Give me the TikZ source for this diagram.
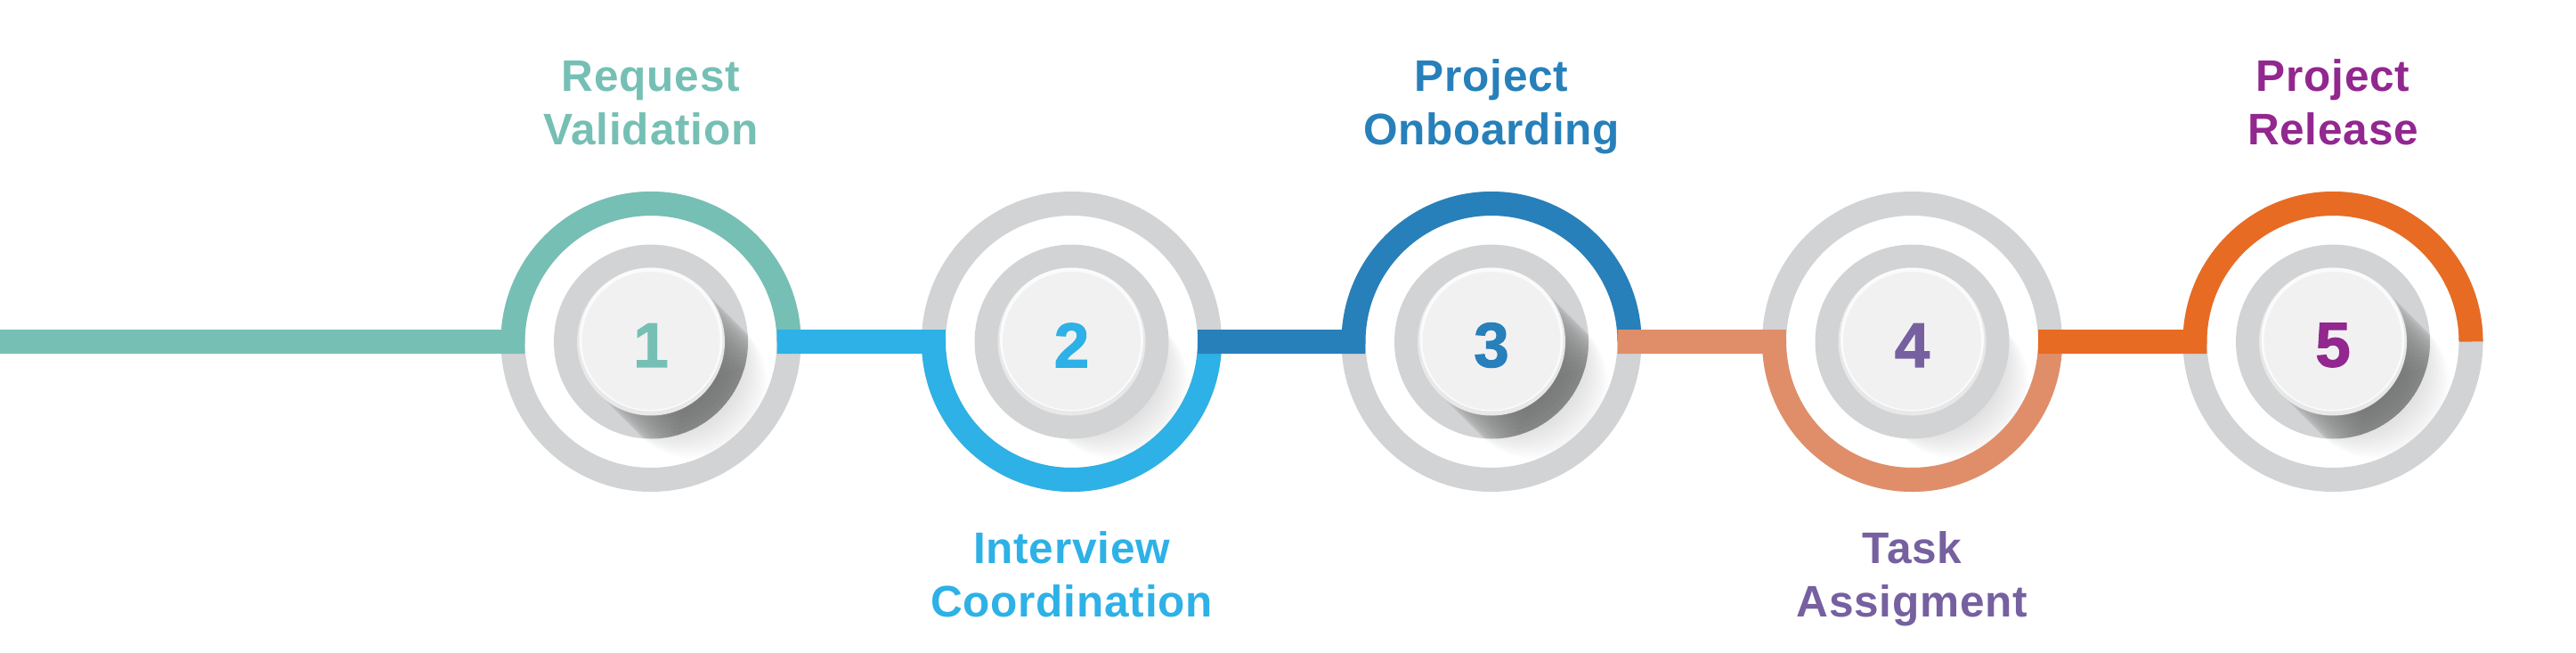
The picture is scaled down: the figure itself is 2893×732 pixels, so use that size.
\documentclass[tikz,border=0pt]{standalone}
\usepackage{fontspec}
\setmainfont{Liberation Sans}
\newfontfamily\labfont[LetterSpace=1.5]{Liberation Sans}
\newfontfamily\numfont[FakeBold=1.6]{Liberation Sans}
\usetikzlibrary{calc}
\definecolor{cA}{HTML}{76BFB5}
\definecolor{cB}{HTML}{2DB1E6}
\definecolor{cC}{HTML}{2780BA}
\definecolor{cD}{HTML}{E08E6A}
\definecolor{cE}{HTML}{E86B23}
\definecolor{tD}{HTML}{7660A0}
\definecolor{tE}{HTML}{92278F}
\definecolor{ringgrey}{HTML}{D1D3D4}
\definecolor{diskface}{HTML}{F2F1F2}
\definecolor{diskrim}{HTML}{E8E8E8}
\definecolor{diskhi}{HTML}{FBFBFB}
\begin{document}
\begin{tikzpicture}[x=0.01cm,y=0.01cm,
  track/.style={line width=0.27cm, line join=miter, line cap=butt},
  ringbg/.style={draw=ringgrey, line width=0.27cm},
  lab/.style={font=\labfont\bfseries\fontsize{14.1}{16.8}\selectfont, align=center, anchor=base},
  num/.style={font=\numfont\bfseries\fontsize{20.2}{24}\selectfont, inner sep=0pt}
]
\useasboundingbox (0,0) rectangle (2893,732);
\foreach \i/\x in {1/731,2/1203.5,3/1675,4/2147.5,5/2620} {\coordinate (c\i) at (\x,348.5);}
\coordinate (start) at (0,348.5);

% faint outer shadows (long shadow of the light disk beyond the grey disk)
\foreach \i in {1,...,5} {
  \foreach \k in {1,...,16} \fill[black, opacity=0.011] ($(c\i)+(\k*3,-\k*3)$) circle (83);
}
% grey rings
\foreach \i in {1,...,5} \draw[ringbg] (c\i) circle (155);

% coloured tracks
\draw[track, cA] (start) -- ($(c1)+(-155,0)$) arc[start angle=180,end angle=0,radius=155];
\draw[track, cB] ($(c1)+(141.5,0)$) -- ($(c2)+(-155,0)$) arc[start angle=180,end angle=360,radius=155];
\draw[track, cC] ($(c2)+(141.5,0)$) -- ($(c3)+(-155,0)$) arc[start angle=180,end angle=0,radius=155];
\draw[track, cD] ($(c3)+(141.5,0)$) -- ($(c4)+(-155,0)$) arc[start angle=180,end angle=360,radius=155];
\draw[track, cE] ($(c4)+(141.5,0)$) -- ($(c5)+(-155,0)$) arc[start angle=180,end angle=0,radius=155];

% grey disks
\foreach \i in {1,...,5} \fill[ringgrey] (c\i) circle (109);

% long shadows inside grey disk (1,3,5)
\foreach \i in {1,3,5} {
  \begin{scope}
    \clip (c\i) circle (109);
    \foreach \k in {1,...,28} \fill[black, opacity=0.014] ($(c\i)+(\k*4,-\k*4)$) circle (83);
  \end{scope}
}

% light disks
\foreach \i in {1,...,5} {
  \fill[diskrim] (c\i) circle (83);
  \fill[diskhi] ($(c\i)+(0,2.5)$) circle (80.5);
  \fill[diskface] ($(c\i)+(0,1)$) circle (77.5);
}

% numbers
\node[num, text=cA] (n1) at ($(c1)+(0,-4)$) {1};
\node[num, text=cB] (n2) at ($(c2)+(0,-4)$) {2};
\node[num, text=cC] (n3) at ($(c3)+(0,-4)$) {3};
\node[num, text=tD] (n4) at ($(c4)+(0,-4)$) {4};
\node[num, text=tE] (n5) at ($(c5)+(0,-4)$) {5};

% labels (base anchor = baseline of last line)
\node[lab, text=cA] (l1) at (731,570) {Request\\Validation};
\node[lab, text=cB] (l2) at (1203.5,40) {Interview\\Coordination};
\node[lab, text=cC] (l3) at (1675,570) {Project\\Onboarding};
\node[lab, text=tD] (l4) at (2147.5,40) {Task\\Assigment};
\node[lab, text=tE] (l5) at (2620,570) {Project\\Release};
\end{tikzpicture}
\end{document}
